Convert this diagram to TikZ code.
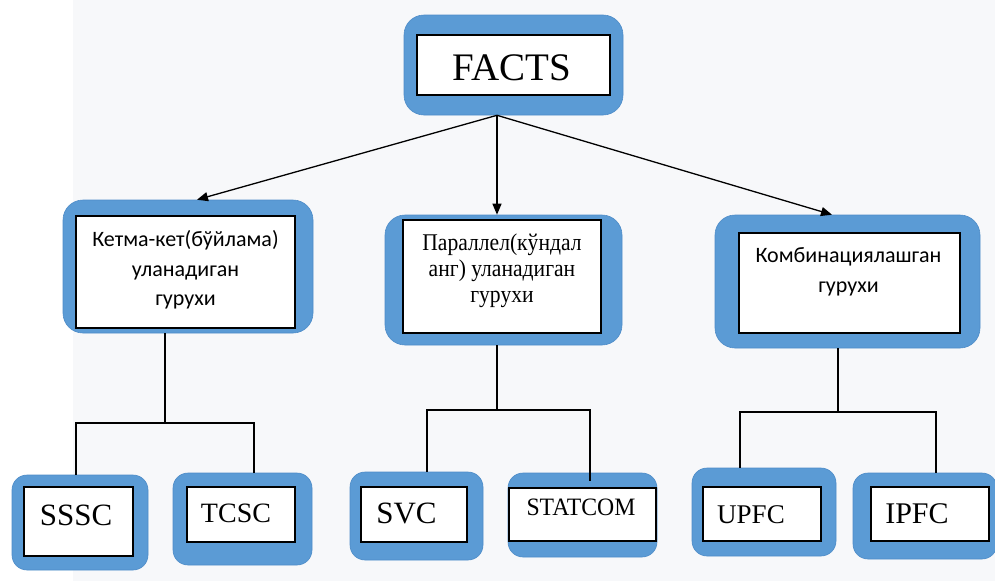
\documentclass[tikz,border=0pt]{standalone}
\usepackage{fontspec}
\setmainfont{Liberation Serif}
\newfontfamily\grpsans{Carlito}
\usetikzlibrary{calc,arrows.meta}
\definecolor{boxblue}{HTML}{5B9BD5}
\definecolor{boxedge}{HTML}{4E8CC8}
\definecolor{paper}{HTML}{F7F8FA}
\begin{document}
\begin{tikzpicture}[x=1pt,y=-1pt,
  outer/.style={draw=boxedge, line width=0.6pt, fill=boxblue, inner sep=0pt, rounded corners=20pt},
  smallouter/.style={outer, rounded corners=15pt},
  inner/.style={draw=black, line width=1.4pt, fill=white, inner sep=0pt},
  lbl/.style={inner sep=0pt, anchor=base},
  sanslbl/.style={lbl, font=\grpsans\fontsize{22}{26}\selectfont},
  seriflbl/.style={lbl, xscale=0.9, font=\fontsize{24}{27}\selectfont},
  wire/.style={draw=black, line width=1.3pt},
  arr/.style={wire, -{Triangle[length=11pt,width=9pt]}}
]
\useasboundingbox (0,0) rectangle (995,581);
\clip (0,0) rectangle (995,581);
% backdrop
\fill[white] (0,0) rectangle (73,581);
\fill[paper] (73,0) rectangle (995,581);

% top block
\node[outer, minimum width=219pt, minimum height=100pt] (facts-o) at (513.5,65) {};
\node[inner, minimum width=193pt, minimum height=60pt] (facts-i) at (513.5,65) {};
\node[lbl, font=\fontsize{39}{44}\selectfont] (facts-t) at (512,80) {FACTS};

% series group
\node[outer, minimum width=250pt, minimum height=133pt] (ser-o) at (188,266.5) {};
\node[inner, minimum width=219pt, minimum height=112pt] (ser-i) at (185.5,272) {};
\node[sanslbl] (ser-t1) at (185.5,246) {Кетма-кет(бўйлама)};
\node[sanslbl] (ser-t2) at (185.5,276) {уланадиган};
\node[sanslbl] (ser-t3) at (185.5,305) {гурухи};

% shunt group
\node[outer, minimum width=237pt, minimum height=130pt] (par-o) at (503.5,280) {};
\node[inner, minimum width=198pt, minimum height=113pt] (par-i) at (502,276.5) {};
\node[seriflbl] (par-t1) at (502,250) {Параллел(кўндал};
\node[seriflbl] (par-t2) at (502,276) {анг) уланадиган};
\node[seriflbl] (par-t3) at (502,302) {гурухи};

% combined group
\node[outer, minimum width=265pt, minimum height=133pt] (com-o) at (847.5,281.5) {};
\node[inner, minimum width=221pt, minimum height=100pt] (com-i) at (849.5,283) {};
\node[sanslbl] (com-t1) at (848.5,262) {Комбинациялашган};
\node[sanslbl] (com-t2) at (848.5,292) {гурухи};

% devices
\node[smallouter, minimum width=136pt, minimum height=95pt] (sssc-o) at (80,522.5) {};
\node[inner, minimum width=109pt, minimum height=69pt] (sssc-i) at (78.5,521.5) {};
\node[lbl, font=\fontsize{31}{34}\selectfont] (sssc-t) at (76,525) {SSSC};

\node[smallouter, minimum width=139pt, minimum height=92pt] (tcsc-o) at (242.5,519) {};
\node[inner, minimum width=108pt, minimum height=55pt] (tcsc-i) at (241,514.5) {};
\node[lbl, font=\fontsize{28}{32}\selectfont] (tcsc-t) at (236,522) {TCSC};

\node[smallouter, minimum width=133pt, minimum height=88pt] (svc-o) at (416.5,516) {};
\node[inner, minimum width=106pt, minimum height=55pt] (svc-i) at (414,514.5) {};
\node[lbl, font=\fontsize{31}{34}\selectfont] (svc-t) at (406.5,523) {SVC};

\node[smallouter, minimum width=149pt, minimum height=84pt] (stat-o) at (582.5,515) {};
\node[inner, minimum width=147pt, minimum height=53pt] (stat-i) at (582.5,514.5) {};
\node[lbl, xscale=0.95, font=\fontsize{25}{28}\selectfont] (stat-t) at (581,515) {STATCOM};

\node[smallouter, minimum width=144pt, minimum height=88pt] (upfc-o) at (764,512) {};
\node[inner, minimum width=118pt, minimum height=54pt] (upfc-i) at (762,514) {};
\node[lbl, font=\fontsize{27}{30}\selectfont] (upfc-t) at (751,523) {UPFC};

\node[smallouter, minimum width=144pt, minimum height=86pt] (ipfc-o) at (925,516) {};
\node[inner, minimum width=118pt, minimum height=54pt] (ipfc-i) at (930,514) {};
\node[lbl, font=\fontsize{30}{33}\selectfont] (ipfc-t) at (917,523) {IPFC};

% arrows from the top block
\coordinate (hub) at ($(facts-o.south)+(-16.5,0)$);
\coordinate (to-ser) at ($(ser-o.north)+(9,0)$);
\coordinate (to-par) at ($(par-o.north)+(-6.5,0)$);
\coordinate (to-com) at ($(com-o.north)+(-15.5,0)$);
\draw[arr] (hub) -- (to-ser);
\draw[arr] (hub) -- (to-par);
\draw[arr] (hub) -- (to-com);

% series branch
\coordinate (jl) at (165,423);
\coordinate (d-sssc) at (76,423);
\coordinate (d-tcsc) at (254,423);
\draw[wire] (jl |- ser-o.south) -- (jl);
\draw[wire] (d-sssc |- sssc-o.north) -- (d-sssc) -- (d-tcsc) -- (d-tcsc |- tcsc-o.north);

% shunt branch
\coordinate (jm) at (497,410);
\coordinate (d-svc) at (427,410);
\coordinate (d-stat) at (590,410);
\draw[wire] (jm |- par-o.south) -- (jm);
\draw[wire] (d-svc |- svc-o.north) -- (d-svc) -- (d-stat) -- ($(d-stat |- stat-o.north)+(0,8)$);

% combined branch
\coordinate (jr) at (838,412);
\coordinate (d-upfc) at (740,412);
\coordinate (d-ipfc) at (936,412);
\draw[wire] (jr |- com-o.south) -- (jr);
\draw[wire] (d-upfc |- upfc-o.north) -- (d-upfc) -- (d-ipfc) -- (d-ipfc |- ipfc-o.north);
\end{tikzpicture}
\end{document}
